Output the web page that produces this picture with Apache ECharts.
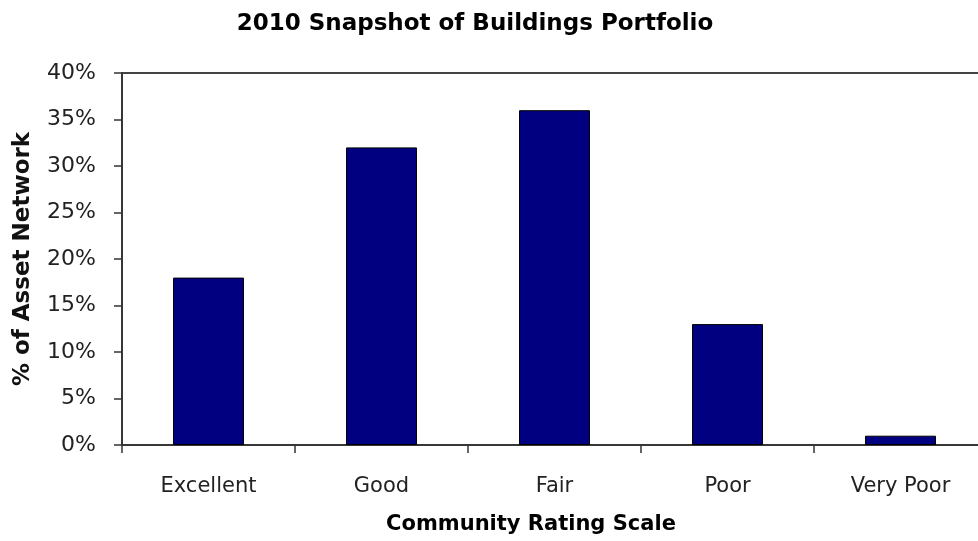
<!DOCTYPE html>
<html>
<head>
<meta charset="utf-8">
<script src="https://cdn.jsdelivr.net/npm/echarts@6/dist/echarts.min.js"></script>
<style>
  html, body { margin: 0; padding: 0; background: #fff; }
  #chart { width: 978px; height: 541px; }
</style>
</head>
<body>
<div id="chart"></div>
<script>
// Community rating categories and share of the asset network (%)
const categories = ['Excellent', 'Good', 'Fair', 'Poor', 'Very Poor'];
const shareValues = [18, 32, 36, 13, 1];
const yTicks = { min: 0, max: 40, interval: 5 };

const FONT = 'DejaVu Sans';

const chart = echarts.init(document.getElementById('chart'), null, { renderer: 'canvas' });

chart.setOption({
  backgroundColor: '#ffffff',
  animation: false,
  title: {
    text: '2010 Snapshot of Buildings Portfolio',
    left: 470,
    textAlign: 'center',
    top: 8,
    textStyle: { fontFamily: FONT, fontWeight: 'bold', fontSize: 23, color: '#000' }
  },
  grid: {
    left: 122,
    right: -9,
    top: 73,
    bottom: 96,
    containLabel: false,
    outerBoundsMode: 'none',
    show: true,
    borderColor: '#444',
    borderWidth: 2,
    backgroundColor: 'transparent'
  },
  xAxis: {
    type: 'category',
    data: categories,
    boundaryGap: true,
    name: 'Community Rating Scale',
    nameLocation: 'middle',
    nameGap: 69,
    nameMoveOverlap: false,
    // the plot runs past the right edge, so nudge the title back toward the visible centre
    nameTextStyle: {
      fontFamily: FONT, fontWeight: 'bold', fontSize: 21, color: '#000',
      padding: [0, 47, 0, 0]
    },
    axisLine: { show: true, lineStyle: { color: '#333', width: 1.5 } },
    axisTick: { show: true, length: 8, lineStyle: { color: '#333', width: 1.5 } },
    axisLabel: { margin: 31, fontFamily: FONT, fontSize: 21, color: '#222' },
    splitLine: { show: false }
  },
  yAxis: {
    type: 'value',
    min: yTicks.min,
    max: yTicks.max,
    interval: yTicks.interval,
    name: '% of Asset Network',
    nameLocation: 'middle',
    nameGap: 87,
    nameRotate: 90,
    nameMoveOverlap: false,
    nameTextStyle: { fontFamily: FONT, fontWeight: 'bold', fontSize: 23, color: '#111' },
    axisLine: { show: true, lineStyle: { color: '#333', width: 1.5 } },
    axisTick: { show: true, length: 8, lineStyle: { color: '#333', width: 1.5 } },
    axisLabel: {
      margin: 26,
      fontFamily: FONT,
      fontSize: 22,
      color: '#222',
      formatter: v => v + '%'
    },
    splitLine: { show: false }
  },
  series: [{
    type: 'bar',
    data: shareValues,
    barWidth: 71,
    itemStyle: { color: '#000080', borderColor: '#000', borderWidth: 1 }
  }]
});
</script>
</body>
</html>
